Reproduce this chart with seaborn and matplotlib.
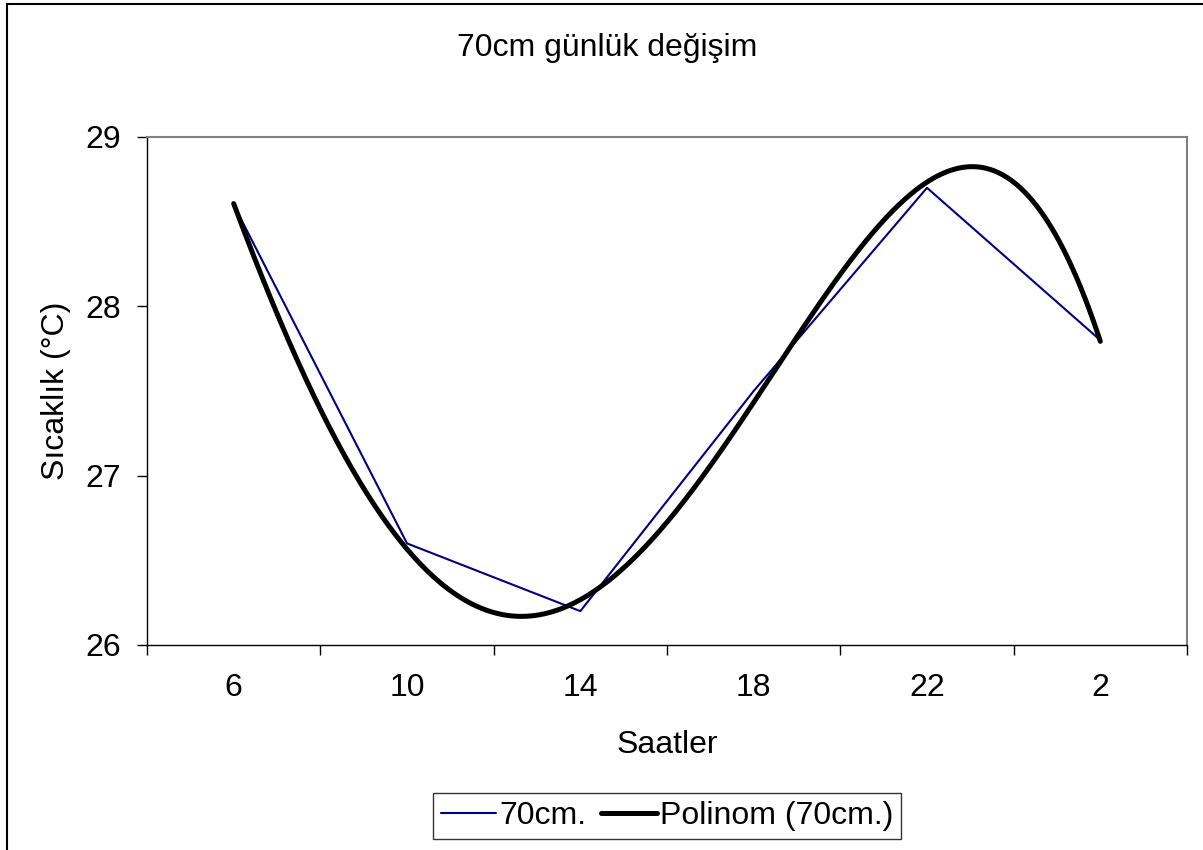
import matplotlib
matplotlib.use("Agg")
import matplotlib.pyplot as plt
import numpy as np
import pandas as pd
import seaborn as sns
from matplotlib.lines import Line2D

# Data
hours = ["6", "10", "14", "18", "22", "2"]
temp_70cm = [28.6, 26.6, 26.2, 27.5, 28.7, 27.8]
poly_order = 4

sns.set_theme(style="white")
plt.rcParams["font.family"] = ["Liberation Sans", "DejaVu Sans"]
plt.rcParams.update({
    "font.size": 23,
    "text.color": "black",
    "axes.labelcolor": "black",
    "xtick.color": "black",
    "ytick.color": "black",
})

W, H = 1203, 850
fig = plt.figure(figsize=(W / 100, H / 100), dpi=100)
ax = fig.add_axes([147 / W, 1 - 645 / H, (1187 - 147) / W, (645 - 137) / H])

pos = np.arange(len(hours))
df = pd.DataFrame({"pos": pos, "temp": temp_70cm})

# polynomial trendline (Excel style, least squares)
coef = np.polyfit(pos, temp_70cm, poly_order)
xs = np.linspace(pos[0], pos[-1], 400)
trend = pd.DataFrame({"pos": xs, "temp": np.polyval(coef, xs)})

sns.lineplot(data=df, x="pos", y="temp", ax=ax, color="#000080", linewidth=1.5)
sns.lineplot(data=trend, x="pos", y="temp", ax=ax, color="black", linewidth=3.6,
             solid_capstyle="round")

ax.set_xlim(-0.5, len(hours) - 0.5)
ax.set_ylim(26, 29)
ax.set_yticks([26, 27, 28, 29])
ax.set_xticks(np.arange(len(hours) + 1) - 0.5)
ax.set_xticklabels([])
ax.set_xticks(pos, minor=True)
ax.set_xticklabels(hours, minor=True)
ax.tick_params(axis="x", which="major", direction="out", length=7, width=1,
               color="black", bottom=True)
ax.tick_params(axis="x", which="minor", length=0, pad=20, labelsize=23)
ax.tick_params(axis="y", direction="out", length=7, width=1, color="black",
               left=True, pad=12, labelsize=23)
ax.set_xlabel("")
ax.set_ylabel("")
ax.grid(False)

for s in ["left", "bottom"]:
    ax.spines[s].set_color("black")
    ax.spines[s].set_linewidth(1.0)
for s in ["top", "right"]:
    ax.spines[s].set_color("#808080")
    ax.spines[s].set_linewidth(1.5)

fig.text(607 / W, 1 - 48 / H, "70cm günlük değişim", ha="center", va="center", fontsize=23)
fig.text(667 / W, 1 - 745 / H, "Saatler", ha="center", va="center", fontsize=23)
fig.text(56 / W, 1 - 391 / H, "Sıcaklık (°C)", ha="center", va="center",
         rotation=90, fontsize=23)

handles = [Line2D([], [], color="#000080", linewidth=1.5),
           Line2D([], [], color="black", linewidth=3.6)]
leg = fig.legend(handles, ["70cm.", "Polinom (70cm.)"], loc="center",
                 bbox_to_anchor=(667 / W, 1 - 816 / H), ncol=2, fontsize=23,
                 frameon=True, fancybox=False, shadow=False, handlelength=1.75,
                 handletextpad=0.1, columnspacing=0.45, borderpad=0.25,
                 borderaxespad=0)
leg.get_frame().set_edgecolor("black")
leg.get_frame().set_linewidth(1.0)

# chart-area border (only left and top visible in the crop)
fig.add_artist(Line2D([7 / W, 7 / W], [0, 1 - 4 / H], color="black", linewidth=1.5,
                      transform=fig.transFigure))
fig.add_artist(Line2D([7 / W, 1], [1 - 4 / H, 1 - 4 / H], color="black", linewidth=1.5,
                      transform=fig.transFigure))

fig.savefig("out.png", dpi=100)
